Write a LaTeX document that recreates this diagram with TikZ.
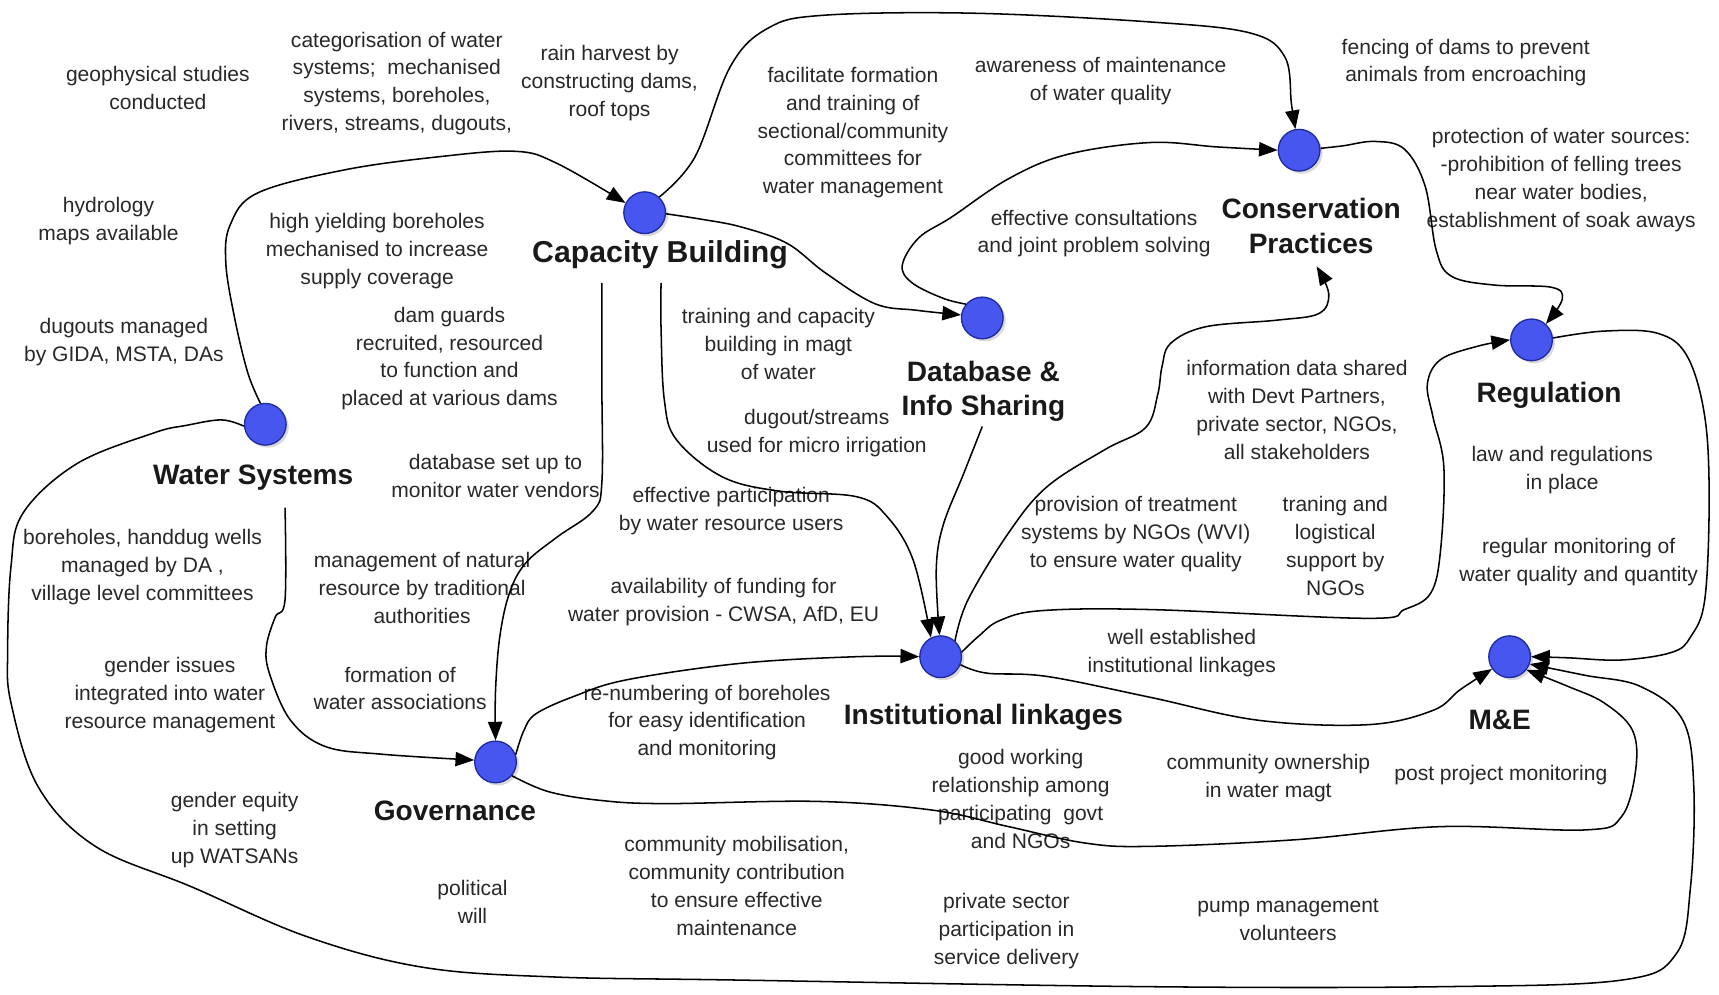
\documentclass[tikz,border=0pt]{standalone}
\usepackage{fontspec}
\setmainfont{Liberation Sans}
\usetikzlibrary{arrows.meta,shadows}
\definecolor{dotblue}{RGB}{70,86,238}
\definecolor{dotrim}{RGB}{30,42,160}
\definecolor{inkgray}{RGB}{40,40,40}

\begin{document}
\begin{tikzpicture}[x=0.5pt,y=-0.5pt,
  dot/.style={circle, minimum size=19pt, inner sep=0pt, fill=dotblue, draw=dotrim,
    line width=0.6pt, drop shadow={shadow xshift=1.2pt, shadow yshift=-1.2pt, opacity=0.3}},
  hub/.style={font=\fontsize{12.8}{15.8}\selectfont\bfseries, align=center, inner sep=0pt, text=black!90},
  note/.style={font=\fontsize{9.6}{12.7}\selectfont, align=center, inner sep=0pt, text=inkgray},
  link/.style={line width=0.7pt, -{Triangle[length=8.5pt,width=6.5pt]}}]

\useasboundingbox (0,0) rectangle (1568,907);

% ---- hubs: blue dots and their titles
\node[dot] (cb)  at (588,194) {};
\node[dot] (ws)  at (242,387) {};
\node[dot] (db)  at (896,290) {};
\node[dot] (cp)  at (1185,137) {};
\node[dot] (reg) at (1397,310) {};
\node[dot] (me)  at (1377,599) {};
\node[dot] (il)  at (858,599) {};
\node[dot] (gov) at (452,695) {};

\node[hub, font=\fontsize{13.8}{16.5}\selectfont\bfseries] (cbl) at (602,232) {Capacity Building};
\node[hub] (wsl)  at (231,436)  {Water Systems};
\node[hub] (dbl)  at (897,357)  {Database \&\\Info Sharing};
\node[hub] (cpl)  at (1196,206) {Conservation\\Practices};
\node[hub] (regl) at (1413,361) {Regulation};
\node[hub] (mel)  at (1368,657) {M\&E};
\node[hub] (ill)  at (897,654)  {Institutional linkages};
\node[hub] (govl) at (415,740)  {Governance};

% ---- free ends of connectors that start or stop at a title
\coordinate (cbo1) at (603,258);
\coordinate (cbo2) at (549,258);
\coordinate (dbo)  at (896,389);
\coordinate (wso)  at (260,463);
\coordinate (cptip) at (1201,243);

% ---- notes
\node[note] (n1)  at (144,80)   {geophysical studies\\conducted};
\node[note] (n2)  at (362,76)   {categorisation of water\\systems;~ mechanised\\systems, boreholes,\\rivers, streams, dugouts,};
\node[note] (n3)  at (556,76)   {rain harvest by\\constructing dams,\\roof tops};
\node[note] (n4)  at (778,121)  {facilitate formation\\and training of\\sectional/community\\committees for\\water management};
\node[note] (n5)  at (1004,74)  {awareness of maintenance\\of water quality};
\node[note] (n6)  at (1337,57)  {fencing of dams to prevent\\animals from encroaching};
\node[note] (n7)  at (1424,164) {protection of water sources:\\-prohibition of felling trees\\near water bodies,\\establishment of soak aways};
\node[note] (n8)  at (99,202)   {hydrology\\maps available};
\node[note] (n9)  at (344,229)  {high yielding boreholes\\mechanised to increase\\supply coverage};
\node[note] (n10) at (998,213)  {effective consultations\\and joint problem solving};
\node[note] (n11) at (113,312)  {dugouts managed\\by GIDA, MSTA, DAs};
\node[note] (n12) at (410,327)  {dam guards\\recruited, resourced\\to function and\\placed at various dams};
\node[note] (n13) at (710,314)  {training and capacity\\building in magt\\of water};
\node[note] (n14) at (745,395)  {dugout/streams\\used for micro irrigation};
\node[note] (n15) at (1183,374) {information data shared\\with Devt Partners,\\private sector, NGOs,\\all stakeholders};
\node[note] (n16) at (1425,429) {law and regulations\\in place};
\node[note] (n17) at (452,434)  {database set up to\\monitor water vendors};
\node[note] (n18) at (667,466)  {effective participation\\by water resource users};
\node[note] (n19) at (1036,487) {provision of treatment\\systems by NGOs (WVI)\\to ensure water quality};
\node[note] (n20) at (1218,498) {traning and\\logistical\\support by\\NGOs};
\node[note] (n21) at (1440,513) {regular monitoring of\\water quality and quantity};
\node[note] (n22) at (130,517)  {boreholes, handdug wells\\managed by DA ,\\village level committees};
\node[note] (n23) at (385,536)  {management of natural\\resource by traditional\\authorities};
\node[note] (n24) at (660,549)  {availability of funding for\\water provision - CWSA, AfD, EU};
\node[note] (n25) at (1078,596) {well established\\institutional linkages};
\node[note] (n26) at (155,634)  {gender issues\\integrated into water\\resource management};
\node[note] (n27) at (365,628)  {formation of\\water associations};
\node[note] (n28) at (645,659)  {re-numbering of boreholes\\for easy identification\\and monitoring};
\node[note] (n29) at (931,729)  {good working\\relationship among\\participating~ govt\\and NGOs};
\node[note] (n30) at (1157,710) {community ownership\\in water magt};
\node[note] (n31) at (1369,707) {post project monitoring};
\node[note] (n32) at (214,757)  {gender equity\\in setting\\up WATSANs};
\node[note] (n33) at (431,823)  {political\\will};
\node[note] (n34) at (672,808)  {community mobilisation,\\community contribution\\to ensure effective\\maintenance};
\node[note] (n35) at (918,849)  {private sector\\participation in\\service delivery};
\node[note] (n36) at (1175,839) {pump management\\volunteers};

% ---- connectors
% Water Systems -> Capacity Building
\draw[link] plot[smooth, tension=0.6] coordinates {(ws.103) (226,340) (214,290) (206,240) (210,205) (235,176) (314,155) (400,143) (470,138) (508,149) (cb.153)};
% Capacity Building -> Conservation Practices
\draw[link] plot[smooth, tension=0.6] coordinates {(cb.47) (634,143) (666,61) (700,26) (750,14) (886,12) (1049,20) (1140,30) (1172,52) (1178,95) (cp.100)};
% Capacity Building -> Database & Info Sharing
\draw[link] plot[smooth, tension=0.6] coordinates {(cb.-3) (640,200) (676,207) (718,222) (753,249) (798,277) (836,283) (db.172)};
% Database & Info Sharing -> Conservation Practices
\draw[link] plot[smooth, tension=0.6] coordinates {(db.140) (860,272) (832,258) (823,242) (838,217) (868,198) (920,163) (973,141) (1049,130) (1110,134) (cp.180)};
% Conservation Practices -> Regulation
\draw[link] plot[smooth, tension=0.6] coordinates {(cp.5) (1225,133) (1254,129) (1281,136) (1300,170) (1310,228) (1324,252) (1363,260) (1415,262) (1425,273) (reg.48)};
% Regulation -> M&E
\draw[link] plot[smooth, tension=0.6] coordinates {(reg.5) (1463,302) (1512,304) (1539,325) (1555,380) (1559,456) (1555,547) (1542,581) (1525,595) (1479,602) (1430,600) (me.0)};
% Institutional linkages -> Conservation Practices (title)
\draw[link] plot[smooth, tension=0.6] coordinates {(il.48) (883,547) (920,486) (955,444) (1008,410) (1045,390) (1056,360) (1060,334) (1068,313) (1100,298) (1165,292) (1203,286) (1212,268) (cptip)};
% Institutional linkages -> Regulation
\draw[link] plot[smooth, tension=0.6] coordinates {(il.12) (893,580) (912,566) (950,557) (1049,556) (1248,564) (1281,556) (1305,541) (1314,502) (1317,426) (1307,380) (1302,350) (1314,328) (1347,316) (reg.180)};
% Institutional linkages -> M&E
\draw[link] plot[smooth, tension=0.6] coordinates {(il.-22) (900,614) (955,617) (1049,636) (1148,657) (1248,661) (1307,648) (1332,629) (me.215)};
% Capacity Building -> Institutional linkages
\draw[link] plot[smooth, tension=0.6] coordinates {(cbo1) (603,300) (606,365) (617,401) (659,435) (711,448) (781,453) (809,471) (833,511) (il.117)};
% Database & Info Sharing -> Institutional linkages
\draw[link] plot[smooth, tension=0.6] coordinates {(dbo) (879,432) (860,480) (854,520) (il.93)};
% Capacity Building -> Governance
\draw[link] plot[smooth, tension=0.6] coordinates {(cbo2) (549,350) (549,440) (541,466) (508,490) (480,513) (465,540) (456,580) (452,630) (gov.90)};
% Water Systems -> Governance
\draw[link] plot[smooth, tension=0.6] coordinates {(wso) (260,547) (251,563) (243,590) (246,615) (265,657) (297,681) (349,688) (gov.175)};
% Water Systems -> M&E (outer loop)
\draw[link] plot[smooth, tension=0.6] coordinates {(ws.185) (202,383) (170,388) (140,395) (70,423) (21,468) (10,517) (7,593) (10,641) (35,718) (87,772) (175,809) (279,854) (384,882) (502,891) (676,894) (1049,900) (1314,900) (1479,894) (1529,870) (1542,809) (1545,718) (1535,657) (1496,626) (1446,616) (me.-20)};
% Governance -> M&E
\draw[link] plot[smooth, tension=0.6] coordinates {(gov.-40) (500,722) (547,730) (606,733) (746,731) (851,739) (920,754) (990,769) (1049,772) (1181,766) (1314,754) (1446,757) (1479,745) (1492,702) (1489,666) (1463,641) (1430,626) (me.-38)};
% Governance -> Institutional linkages
\draw[link] plot[smooth, tension=0.6] coordinates {(gov.20) (478,666) (489,651) (524,635) (572,620) (676,605) (781,599) (il.180)};

\end{tikzpicture}
\end{document}
